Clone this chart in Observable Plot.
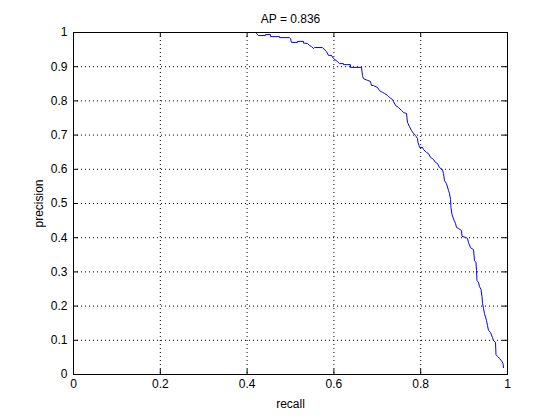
<!DOCTYPE html>
<html><head><meta charset="utf-8">
<script src="https://cdn.jsdelivr.net/npm/d3@7"></script>
<script src="https://cdn.jsdelivr.net/npm/@observablehq/plot@0.6"></script>
<style>body{margin:0;background:#fff}</style>
</head><body><div id="chart"></div>
<script>
const title = "AP = 0.836";
const xLabel = "recall";
const yLabel = "precision";
const xTicks = [0, 0.2, 0.4, 0.6, 0.8, 1];
const yTicks = [0, 0.1, 0.2, 0.3, 0.4, 0.5, 0.6, 0.7, 0.8, 0.9, 1];
const recall = [0.4217,0.4263,0.4424,0.4424,0.4539,0.4539,0.4747,0.4747,0.4977,0.5000,
0.5023,0.5161,0.5161,0.5300,0.5300,0.5392,0.5438,0.5484,0.5530,0.5553,
0.5737,0.5829,0.5876,0.5945,0.5991,0.6083,0.6129,0.6221,0.6221,0.6382,
0.6382,0.6636,0.6659,0.6682,0.6774,0.6843,0.6866,0.6912,0.7005,0.7051,
0.7120,0.7166,0.7235,0.7281,0.7350,0.7373,0.7419,0.7488,0.7558,0.7604,
0.7673,0.7696,0.7742,0.7788,0.7834,0.7880,0.7926,0.7938,0.7961,0.7972,
0.8041,0.8065,0.8134,0.8180,0.8226,0.8295,0.8341,0.8387,0.8433,0.8502,
0.8525,0.8548,0.8594,0.8641,0.8664,0.8687,0.8698,0.8721,0.8756,0.8802,
0.8825,0.8871,0.8940,0.8952,0.9032,0.9078,0.9101,0.9147,0.9217,0.9240,
0.9274,0.9286,0.9297,0.9332,0.9355,0.9389,0.9412,0.9424,0.9447,0.9470,
0.9516,0.9539,0.9562,0.9608,0.9654,0.9677,0.9724,0.9735,0.9770,0.9816,
0.9873,0.9896,0.9908];
const precision = [0.997,0.991,0.991,0.994,0.994,0.988,0.988,0.985,0.985,0.982,
0.971,0.971,0.974,0.974,0.969,0.968,0.962,0.959,0.953,0.956,
0.956,0.944,0.933,0.933,0.924,0.915,0.909,0.909,0.906,0.906,
0.898,0.898,0.874,0.865,0.860,0.857,0.845,0.845,0.839,0.830,
0.825,0.822,0.816,0.810,0.804,0.798,0.787,0.781,0.772,0.766,
0.763,0.737,0.725,0.713,0.705,0.699,0.690,0.678,0.670,0.664,
0.664,0.658,0.649,0.646,0.635,0.629,0.620,0.617,0.605,0.599,
0.588,0.567,0.558,0.538,0.529,0.512,0.488,0.468,0.455,0.442,
0.430,0.427,0.421,0.404,0.401,0.398,0.386,0.371,0.365,0.333,
0.327,0.304,0.275,0.269,0.257,0.249,0.228,0.208,0.193,0.178,
0.158,0.143,0.129,0.123,0.108,0.099,0.094,0.058,0.053,0.047,
0.038,0.032,0.020];

const pr = recall.map((r, i) => ({recall: r, precision: precision[i]}));

const W = 560, H = 420, mL = 73, mR = 53, mT = 32, mB = 46;
const plotW = W - mL - mR, plotH = H - mT - mB, tickLen = 5;
const grid = {stroke: "black", strokeOpacity: 1, strokeWidth: 1, strokeDasharray: "1,3"};

const chart = Plot.plot({
  width: W, height: H,
  marginLeft: mL, marginRight: mR, marginTop: mT, marginBottom: mB,
  x: {domain: [0, 1]},
  y: {domain: [0, 1]},
  style: {fontFamily: "'Liberation Sans', Arial, Helvetica, sans-serif", fontSize: "11px", background: "white", color: "black"},
  marks: [
    Plot.gridX(xTicks.slice(1, -1), grid),
    Plot.gridY(yTicks.slice(1, -1), grid),
    Plot.tickX(xTicks, {x: d => d, insetTop: plotH - tickLen, stroke: "black"}),
    Plot.tickX(xTicks, {x: d => d, insetBottom: plotH - tickLen, stroke: "black"}),
    Plot.tickY(yTicks, {y: d => d, insetRight: plotW - tickLen, stroke: "black"}),
    Plot.tickY(yTicks, {y: d => d, insetLeft: plotW - tickLen, stroke: "black"}),
    Plot.line(pr, {x: "recall", y: "precision", stroke: "#0000ff", strokeWidth: 1}),
    Plot.frame({stroke: "black"}),
    Plot.axisX(xTicks, {tickSize: 0, tickPadding: 5, tickFormat: d => String(d),
      label: xLabel, labelAnchor: "center", labelArrow: "none", labelOffset: 33, fontSize: 12}),
    Plot.axisY(yTicks, {tickSize: 0, tickPadding: 6, tickFormat: d => String(d),
      label: yLabel, labelAnchor: "center", labelArrow: "none", labelOffset: 39, fontSize: 12}),
    Plot.text([title], {frameAnchor: "top", lineAnchor: "bottom", dy: -10, fontSize: 12, fill: "black"})
  ]
});
document.getElementById("chart").appendChild(chart);
</script>
</body></html>
